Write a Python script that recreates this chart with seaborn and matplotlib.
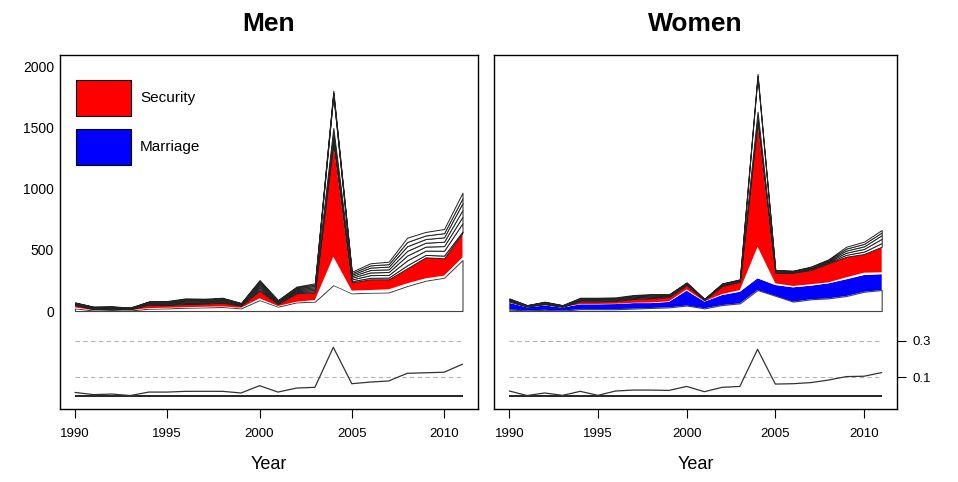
import matplotlib
matplotlib.use("Agg")

import matplotlib.pyplot as plt
import numpy as np
import seaborn as sns
from matplotlib.patches import Patch


years = list(range(1990, 2012))
x_ticks = [1990, 1995, 2000, 2005, 2010]
y_ticks = [0, 500, 1000, 1500, 2000]
share_ticks = [0.1, 0.3]
share_tick_labels = ["0.1", "0.3"]

# Men: stacked layers, bottom to top
men_base = [22, 5, 8, 5, 19, 22, 27, 30, 33, 22, 90, 36, 71, 77, 213, 145, 150, 153, 205, 249, 273, 418]
men_marriage = [0, 0, 0, 0, 0, 0, 0, 0, 0, 0, 0, 0, 0, 0, 0, 0, 0, 0, 0, 0, 0, 0]
men_gap = [8, 2, 2, 2, 5, 5, 5, 5, 5, 5, 14, 5, 5, 13, 232, 22, 22, 25, 22, 19, 17, 22]
men_security = [19, 9, 9, 8, 28, 22, 25, 25, 30, 17, 63, 16, 69, 63, 930, 68, 88, 82, 123, 172, 142, 200]
men_other = [
    [3, 3, 3, 2, 4, 4, 6, 5, 5, 3, 12, 4, 8, 10, 30, 10, 12, 14, 25, 20, 22, 12],
    [3, 3, 3, 2, 4, 5, 7, 6, 6, 3, 13, 5, 8, 11, 35, 14, 22, 22, 40, 35, 40, 68],
    [4, 3, 3, 2, 4, 5, 7, 6, 6, 3, 13, 5, 8, 11, 30, 14, 22, 24, 40, 33, 38, 53],
    [3, 3, 3, 2, 4, 5, 7, 6, 6, 3, 13, 5, 8, 11, 30, 13, 20, 22, 38, 32, 36, 55],
    [3, 3, 3, 2, 4, 5, 7, 6, 6, 4, 12, 5, 8, 11, 270, 12, 20, 22, 38, 30, 36, 57],
    [3, 3, 2, 2, 4, 5, 7, 6, 6, 3, 12, 5, 8, 10, 18, 12, 18, 20, 35, 29, 34, 40],
    [3, 2, 2, 2, 3, 4, 6, 6, 6, 3, 12, 4, 7, 10, 18, 12, 17, 20, 35, 29, 34, 45],
]
men_share = [0.017, 0.005, 0.008, 0.0, 0.019, 0.019, 0.023, 0.023, 0.023, 0.014, 0.054,
             0.019, 0.041, 0.045, 0.265, 0.065, 0.074, 0.080, 0.122, 0.125, 0.128, 0.172]

# Women: stacked layers, bottom to top
women_base = [12, 5, 10, 3, 15, 15, 15, 20, 25, 30, 45, 22, 49, 63, 172, 125, 77, 96, 104, 123, 158, 172]
women_marriage = [55, 25, 35, 25, 40, 40, 42, 45, 40, 45, 122, 55, 82, 95, 96, 88, 117, 112, 123, 137, 137, 130]
women_gap = [3, 2, 3, 2, 3, 3, 3, 3, 5, 5, 10, 3, 8, 14, 259, 14, 11, 11, 8, 16, 19, 15]
women_security = [8, 5, 8, 5, 20, 20, 22, 30, 35, 35, 36, 10, 66, 68, 1025, 87, 109, 117, 156, 169, 153, 210]
women_other = [
    [5, 2, 4, 3, 6, 6, 6, 7, 7, 4, 4, 2, 4, 4, 25, 4, 3, 5, 6, 16, 20, 30],
    [6, 3, 5, 3, 7, 7, 6, 7, 7, 5, 5, 2, 5, 4, 30, 5, 4, 6, 7, 18, 22, 35],
    [5, 2, 4, 3, 6, 6, 6, 6, 7, 4, 4, 2, 4, 4, 27, 4, 3, 6, 7, 17, 21, 30],
    [5, 3, 4, 2, 6, 6, 6, 7, 7, 5, 5, 2, 5, 4, 290, 5, 4, 6, 7, 16, 20, 22],
    [5, 2, 4, 3, 6, 6, 6, 6, 6, 4, 4, 2, 4, 4, 19, 4, 3, 5, 6, 15, 18, 20],
]
women_share = [0.025, 0.0, 0.014, 0.001, 0.023, 0.001, 0.025, 0.030, 0.030, 0.028, 0.050,
               0.021, 0.045, 0.050, 0.254, 0.063, 0.065, 0.071, 0.085, 0.104, 0.106, 0.126]


def build_layers(base, marriage, gap, security, other):
    layers = [
        (base, "white", "#444444", 0.8),
        (marriage, "#0000ff", "none", 0.0),
        (gap, "white", "none", 0.0),
        (security, "#ff0000", "none", 0.0),
    ]
    for values in other:
        layers.append((values, "white", "#222222", 0.7))
    return layers


def draw_panel(fig, rect, title, layers, share, left_axis, right_axis, legend):
    ax = fig.add_axes(rect)
    lower = np.zeros(len(years))
    for values, face, edge, lw in layers:
        upper = lower + np.asarray(values, dtype=float)
        ax.fill_between(years, lower, upper, facecolor=face, edgecolor=edge, linewidth=lw)
        lower = upper

    ax.set_xlim(1989.16, 2011.84)
    ax.set_ylim(-803, 2098)
    ax.set_xticks(x_ticks)
    ax.tick_params(axis="x", bottom=True, length=6.5, width=0.8, pad=7.5, labelsize=9.5,
                   direction="out", colors="black")
    if left_axis:
        ax.set_yticks(y_ticks)
        ax.tick_params(axis="y", left=False, length=0, pad=4, labelsize=10, labelcolor="black")
    else:
        ax.set_yticks([])
    for spine in ax.spines.values():
        spine.set_color("black")
        spine.set_linewidth(1.0)

    ax.set_title(title, fontsize=19, fontweight="bold", pad=17, color="black")
    ax.set_xlabel("Year", fontsize=13, color="black")
    ax.xaxis.set_label_coords(0.5, -(456 - 409) / 354)

    pax = ax.twinx()
    pax.set_ylim(-0.074, 1.871)
    pax.hlines(share_ticks, years[0], years[-1], colors="#b5b5b5", linestyles=(0, (4, 3)), linewidth=0.8)
    pax.hlines(0, years[0], years[-1], colors="black", linewidth=1.2)
    sns.lineplot(x=years, y=share, ax=pax, color="#333333", linewidth=0.9)
    pax.set_ylabel("")
    if right_axis:
        pax.set_yticks(share_ticks)
        pax.set_yticklabels(share_tick_labels)
        pax.tick_params(axis="y", right=True, length=6.5, width=0.8, pad=5, labelsize=9.5,
                        direction="out", colors="black")
    else:
        pax.set_yticks([])
    for spine in pax.spines.values():
        spine.set_visible(False)

    if legend:
        handles = [
            Patch(facecolor="#ff0000", edgecolor="black", linewidth=0.8, label="Security"),
            Patch(facecolor="#0000ff", edgecolor="black", linewidth=0.8, label="Marriage"),
        ]
        leg = ax.legend(
            handles=handles,
            loc="upper left",
            bbox_to_anchor=((76 - 59.5) / 418.5, 1 - (80 - 55) / 354),
            frameon=False,
            fontsize=11,
            handlelength=3.6,
            handleheight=3.25,
            handletextpad=0.6,
            labelspacing=0.85,
            borderpad=0,
            borderaxespad=0,
        )
        for text in leg.get_texts():
            text.set_color("black")
    return ax


sns.set_style("white")
plt.rcParams["font.family"] = ["Liberation Sans", "DejaVu Sans"]

fig = plt.figure(figsize=(9.58, 4.82), dpi=100)

men_layers = build_layers(men_base, men_marriage, men_gap, men_security, men_other)
women_layers = build_layers(women_base, women_marriage, women_gap, women_security, women_other)

draw_panel(fig, [59.5 / 958, 73 / 482, 418.5 / 958, 354 / 482], "Men",
           men_layers, men_share, left_axis=True, right_axis=False, legend=True)
draw_panel(fig, [494.4 / 958, 73 / 482, 402.2 / 958, 354 / 482], "Women",
           women_layers, women_share, left_axis=False, right_axis=True, legend=False)

fig.savefig("out.png", dpi=100)
plt.close(fig)
